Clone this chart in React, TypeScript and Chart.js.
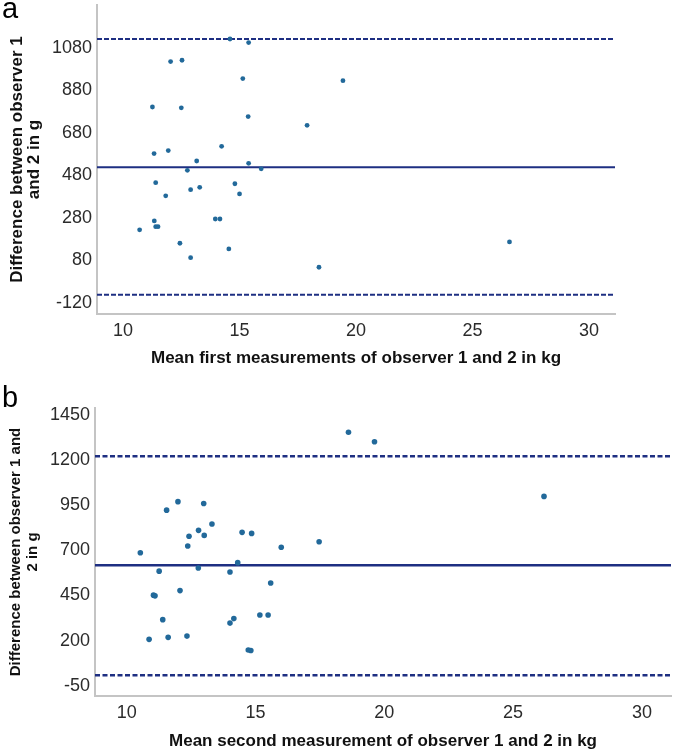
import React, { useEffect, useRef } from "react";
import { Chart, registerables } from "chart.js";

Chart.register(...registerables);

// ---------- Panel a ----------
const xTicksA = [10, 15, 20, 25, 30];
const yTicksA = [-120, 80, 280, 480, 680, 880, 1080];
const meanA = [
  14.59, 15.39, 12.04, 12.53, 15.14, 19.44, 11.26, 12.5, 15.37, 17.9, 14.23, 11.33,
  11.94, 13.16, 12.76, 15.39, 15.93, 11.4, 14.8, 12.9, 13.29, 11.83, 15.0, 10.71,
  11.34, 11.4, 11.5, 13.96, 14.16, 12.44, 14.54, 12.9, 18.41, 26.59,
];
const diffA = [
  1122, 1105, 1016, 1022, 936, 926, 802, 798, 757, 716, 617, 583, 597, 548, 504, 537,
  511, 446, 441, 413, 424, 384, 393, 224, 266, 239, 239, 275, 275, 161, 134, 93, 48, 167,
];
const limitsA = { upper: 1122, mean: 519, lower: -82 };

// ---------- Panel b ----------
const xTicksB = [10, 15, 20, 25, 30];
const yTicksB = [-50, 200, 450, 700, 950, 1200, 1450];
const meanB = [
  18.61, 11.55, 11.99, 12.99, 13.31, 12.79, 12.42, 13.01, 12.37, 14.48, 14.85, 16.0,
  17.47, 10.53, 11.26, 12.78, 14.31, 14.01, 15.59, 11.04, 11.1, 12.07, 11.4, 14.01,
  14.16, 15.17, 15.49, 10.87, 11.61, 12.34, 14.72, 14.82, 19.62, 26.2,
];
const diffB = [
  1355, 923, 970, 960, 846, 811, 778, 783, 724, 800, 794, 717, 748, 687, 585, 602, 632,
  580, 519, 452, 448, 477, 316, 297, 322, 342, 342, 207, 218, 225, 148, 145, 1302, 999,
];
const limitsB = { upper: 1222, mean: 618, lower: 8 };

const FONT = '"Liberation Sans", Arial, sans-serif';
const POINT_COLOR = "#22699a";
const LINE_COLOR = "#1e2f82";
const AXIS_COLOR = "#c4c4c4";
const TICK_COLOR = "#2b2b2b";

type PanelSpec = {
  letter: string;
  letterY: number;
  xs: number[];
  ys: number[];
  limits: { upper: number; mean: number; lower: number };
  xTicks: number[];
  yTicks: number[];
  xRange: [number, number];
  yRange: [number, number];
  xTitle: string;
  yTitle: string[];
  yTitleSize: number;
  yTitleLH: number;
  height: number;
  padTop: number;
  padRight: number;
  yWidth: number;
  xHeight: number;
  xTitlePad: number;
  pointRadius: number;
  meanWidth: number;
  dash: number[];
  dashWidth: number;
};

function buildConfig(p: PanelSpec): any {
  const [x0, x1] = p.xRange;
  const hline = (y: number, dash: number[], width: number) => ({
    type: "scatter",
    data: [
      { x: x0, y },
      { x: x1, y },
    ],
    showLine: true,
    borderColor: LINE_COLOR,
    borderWidth: width,
    borderDash: dash,
    pointRadius: 0,
    order: 2,
  });
  return {
    type: "scatter",
    data: {
      datasets: [
        {
          data: p.xs.map((x, i) => ({ x, y: p.ys[i] })),
          backgroundColor: POINT_COLOR,
          borderColor: POINT_COLOR,
          borderWidth: 0,
          pointRadius: p.pointRadius,
          order: 0,
        },
        hline(p.limits.upper, p.dash, p.dashWidth),
        hline(p.limits.mean, [], p.meanWidth),
        hline(p.limits.lower, p.dash, p.dashWidth),
      ],
    },
    options: {
      responsive: false,
      animation: false,
      layout: { padding: { top: p.padTop, right: p.padRight, left: 0, bottom: 0 } },
      plugins: { legend: { display: false }, tooltip: { enabled: false } },
      scales: {
        x: {
          type: "linear",
          min: x0,
          max: x1,
          grid: { display: false, drawTicks: false },
          border: { display: true, color: AXIS_COLOR, width: 2 },
          afterBuildTicks: (s: any) => {
            s.ticks = p.xTicks.map((v) => ({ value: v }));
          },
          afterFit: (s: any) => {
            s.height = p.xHeight;
            s.paddingLeft = 0;
            s.paddingRight = 0;
          },
          ticks: {
            autoSkip: false,
            maxRotation: 0,
            padding: 6,
            color: TICK_COLOR,
            font: { family: FONT, size: 18 },
            callback: (v: any) => String(v),
          },
          title: {
            display: true,
            text: p.xTitle,
            color: "#111",
            font: { family: FONT, size: 17, weight: "bold", lineHeight: 1.2 },
            padding: { top: 0, bottom: p.xTitlePad },
          },
        },
        y: {
          type: "linear",
          min: p.yRange[0],
          max: p.yRange[1],
          grid: { display: false, drawTicks: false },
          border: { display: true, color: AXIS_COLOR, width: 2 },
          afterBuildTicks: (s: any) => {
            s.ticks = p.yTicks.map((v) => ({ value: v }));
          },
          afterFit: (s: any) => {
            s.width = p.yWidth;
            s.paddingTop = 0;
            s.paddingBottom = 0;
          },
          ticks: {
            autoSkip: false,
            padding: 5,
            color: TICK_COLOR,
            font: { family: FONT, size: 18 },
            callback: (v: any) => String(v),
          },
          title: {
            display: true,
            text: p.yTitle,
            color: "#111",
            font: { family: FONT, size: p.yTitleSize, weight: "bold", lineHeight: p.yTitleLH },
            padding: { top: 8, bottom: 0 },
          },
        },
      },
    },
    plugins: [
      {
        id: "panelLetter",
        afterDraw(chart: any) {
          const ctx = chart.ctx;
          ctx.save();
          ctx.font = `29px ${FONT}`;
          ctx.fillStyle = "#000";
          ctx.textBaseline = "alphabetic";
          ctx.textAlign = "left";
          ctx.fillText(p.letter, 2, p.letterY);
          ctx.restore();
        },
      },
    ],
  };
}

const panelA: PanelSpec = {
  letter: "a",
  letterY: 18,
  xs: meanA,
  ys: diffA,
  limits: limitsA,
  xTicks: xTicksA,
  yTicks: yTicksA,
  xRange: [8.88, 31.12],
  yRange: [-172, 1282],
  xTitle: "Mean first measurements of observer 1 and 2 in kg",
  yTitle: ["Difference between observer 1", "and 2 in g"],
  yTitleSize: 17,
  yTitleLH: 1.05,
  height: 372,
  padTop: 5,
  padRight: 70,
  yWidth: 97,
  xHeight: 58,
  xTitlePad: 3,
  pointRadius: 2.4,
  meanWidth: 2,
  dash: [5, 2],
  dashWidth: 2,
};

const panelB: PanelSpec = {
  letter: "b",
  letterY: 35,
  xs: meanB,
  ys: diffB,
  limits: limitsB,
  xTicks: xTicksB,
  yTicks: yTicksB,
  xRange: [8.77, 31.13],
  yRange: [-107, 1489],
  xTitle: "Mean second measurement of observer 1 and 2 in kg",
  yTitle: ["Difference between observer 1 and", "2 in g"],
  yTitleSize: 15,
  yTitleLH: 1.1,
  height: 383,
  padTop: 36,
  padRight: 14,
  yWidth: 95,
  xHeight: 59,
  xTitlePad: 3,
  pointRadius: 2.8,
  meanWidth: 2.5,
  dash: [5, 2.5],
  dashWidth: 2.5,
};

function Panel({ spec, top }: { spec: PanelSpec; top: number }) {
  const ref = useRef<HTMLCanvasElement | null>(null);
  useEffect(() => {
    if (!ref.current) return;
    const chart = new Chart(ref.current, buildConfig(spec));
    return () => chart.destroy();
  }, [spec]);
  return (
    <canvas
      ref={ref}
      width={685}
      height={spec.height}
      style={{ position: "absolute", left: 0, top, width: 685, height: spec.height }}
    />
  );
}

export default function App() {
  return (
    <div
      style={{
        position: "absolute",
        left: 0,
        top: 0,
        width: 685,
        height: 755,
        background: "#fff",
        overflow: "hidden",
      }}
    >
      <Panel spec={panelA} top={0} />
      <Panel spec={panelB} top={372} />
    </div>
  );
}
